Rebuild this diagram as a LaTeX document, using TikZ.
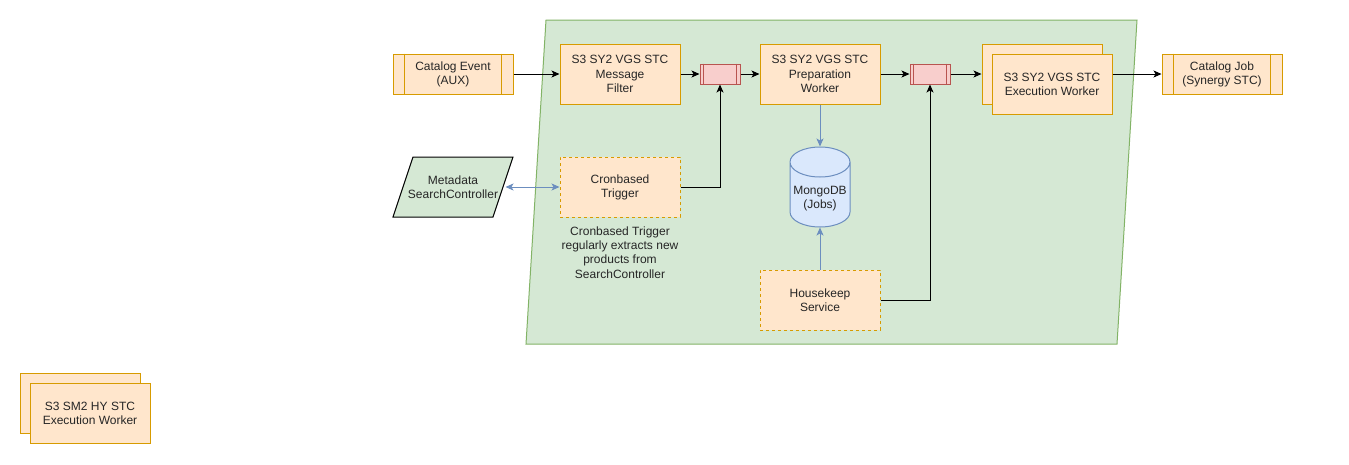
\documentclass[tikz,border=0pt]{standalone}
\usepackage{fontspec}
\setmainfont{Liberation Sans}
\usetikzlibrary{arrows.meta,calc}
\definecolor{lOrange}{HTML}{FFE6CC}
\definecolor{dOrange}{HTML}{D79B00}
\definecolor{lRed}{HTML}{F8CECC}
\definecolor{dRed}{HTML}{B85450}
\definecolor{lGreen}{HTML}{D5E8D4}
\definecolor{dGreen}{HTML}{82B366}
\definecolor{lBlue}{HTML}{DAE8FC}
\definecolor{dBlue}{HTML}{6C8EBF}
\begin{document}
\begin{tikzpicture}[x=1pt,y=-1pt,
  base/.style={font=\fontsize{12}{14.2}\selectfont, align=center, line width=1pt, text=black!85},
  orangebox/.style={base, draw=dOrange, fill=lOrange, minimum width=120pt, minimum height=60pt, inner sep=0pt},
  dashedbox/.style={orangebox, dash pattern=on 3pt off 3pt},
  procbox/.style={orangebox, minimum height=40pt},
  queuebox/.style={draw=dRed, fill=lRed, line width=1pt, minimum width=40pt, minimum height=20pt, inner sep=0pt},
  arr/.style={-{Stealth[length=8pt,width=7pt,inset=2pt]}, line width=1pt},
  barr/.style={arr, draw=dBlue},
]
\useasboundingbox (0,0) rectangle (1349,464);

% green area
\draw[line width=1pt, draw=dGreen, fill=lGreen] (546,20) -- (1137,20) -- (1117,344) -- (526,344) -- cycle;

% Catalog Event
\node[procbox] (ce) at (453,74) {Catalog Event\\(AUX)};
\draw[line width=1pt, dOrange] ($(ce.north west)+(12,0)$) -- ($(ce.south west)+(12,0)$)
  ($(ce.north east)+(-12,0)$) -- ($(ce.south east)+(-12,0)$);

% Message filter
\node[orangebox] (mf) at (620,74) {S3 SY2 VGS STC\\Message\\Filter};

% queue 1
\node[queuebox] (q1) at (720,74) {};
\draw[line width=1pt, dRed] ($(q1.north west)+(4,0)$) -- ($(q1.south west)+(4,0)$)
  ($(q1.north east)+(-4,0)$) -- ($(q1.south east)+(-4,0)$);

% Preparation worker
\node[orangebox] (pw) at (820,74) {S3 SY2 VGS STC\\Preparation\\Worker};

% queue 2
\node[queuebox] (q2) at (930,74) {};
\draw[line width=1pt, dRed] ($(q2.north west)+(4,0)$) -- ($(q2.south west)+(4,0)$)
  ($(q2.north east)+(-4,0)$) -- ($(q2.south east)+(-4,0)$);

% Execution worker stack
\node[orangebox] (ewb) at (1042,74) {};
\node[orangebox] (ewf) at (1052,84) {S3 SY2 VGS STC\\Execution Worker};

% Catalog Job
\node[procbox] (cj) at (1222,74) {Catalog Job\\(Synergy STC)};
\draw[line width=1pt, dOrange] ($(cj.north west)+(12,0)$) -- ($(cj.south west)+(12,0)$)
  ($(cj.north east)+(-12,0)$) -- ($(cj.south east)+(-12,0)$);

% Metadata SearchController
\draw[line width=1pt, fill=lGreen] (413,157) -- (513,157) -- (493,217) -- (393,217) -- cycle;
\node[base, minimum width=100pt, minimum height=60pt, inner sep=0pt] (meta) at (453,187) {Metadata\\SearchController};

% Cronbased trigger
\node[dashedbox] (trig) at (620,187) {Cronbased\\Trigger};
\node[base] (note) at (620,252.5) {Cronbased Trigger\\regularly extracts new\\products from\\SearchController};

% MongoDB cylinder
\fill[lBlue] (790,162) -- (790,212)
  .. controls (790,220.28) and (803.43,227) .. (820,227)
  .. controls (836.57,227) and (850,220.28) .. (850,212)
  -- (850,162)
  .. controls (850,153.72) and (836.57,147) .. (820,147)
  .. controls (803.43,147) and (790,153.72) .. (790,162) -- cycle;
\draw[line width=1pt, dBlue] (790,162) -- (790,212)
  .. controls (790,220.28) and (803.43,227) .. (820,227)
  .. controls (836.57,227) and (850,220.28) .. (850,212)
  -- (850,162)
  .. controls (850,153.72) and (836.57,147) .. (820,147)
  .. controls (803.43,147) and (790,153.72) .. (790,162)
  .. controls (790,170.28) and (803.43,177) .. (820,177)
  .. controls (836.57,177) and (850,170.28) .. (850,162);
\node[base, minimum width=60pt, minimum height=80pt, inner sep=0pt] (db) at (820,187) {};
\node[base] at (820,199) {MongoDB\\(Jobs)};

% Housekeep
\node[dashedbox] (hk) at (820,300) {Housekeep\\Service};

% SM2 HY stack
\node[orangebox] (smb) at (80,403) {};
\node[orangebox] (smf) at (90,413) {S3 SM2 HY STC\\Execution Worker};

% connectors
\draw[arr] (ce.east) -- (mf.west);
\draw[arr] (mf.east) -- (q1.west);
\draw[arr] (q1.east) -- (pw.west);
\draw[arr] (trig.east) -| (q1.south);
\draw[arr] (pw.east) -- (q2.west);
\draw[arr] (q2.east) -- (ewb.west);
\draw[arr] (hk.east) -| (q2.south);
\draw[arr] (cj.west -| ewf.east) -- (cj.west);
\draw[barr] (pw.south) -- (db.north);
\draw[barr] (hk.north) -- (db.south);
\draw[line width=1pt, draw=dBlue, {Stealth[length=8pt,width=7pt,inset=2pt]}-{Stealth[length=8pt,width=7pt,inset=2pt]}] ($(meta.east)+(2,0)$) -- (trig.west);
\end{tikzpicture}
\end{document}
